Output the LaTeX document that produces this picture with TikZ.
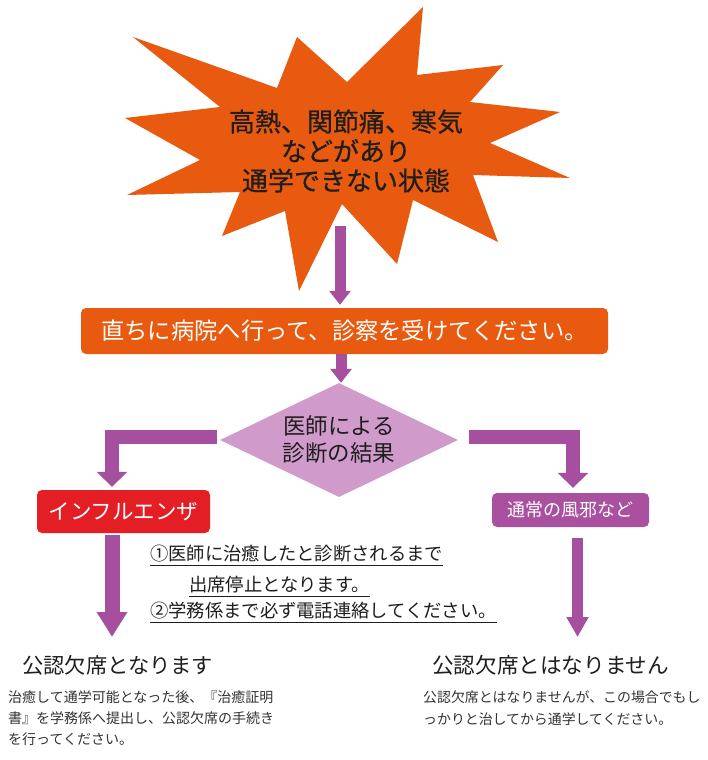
\documentclass[tikz,border=0pt]{standalone}
\usepackage{fontspec}
\setmainfont{Noto Sans CJK JP}
\newfontfamily\heavyjp[FakeBold=0.6]{Noto Sans CJK JP}
\usetikzlibrary{arrows.meta,shapes.geometric}
\definecolor{orng}{RGB}{232,90,15}
\definecolor{arrowc}{RGB}{166,79,159}
\definecolor{diac}{RGB}{208,155,203}
\definecolor{redc}{RGB}{228,30,37}
\definecolor{boxp}{RGB}{169,81,159}
\definecolor{txtc}{RGB}{30,30,30}
\newcommand{\fs}[2]{\fontsize{#1pt}{#2pt}\selectfont}
\begin{document}
\begin{tikzpicture}[x=1pt,y=-1pt,
  parrow/.style={draw=arrowc, line width=11pt, -{Triangle[width=21pt,length=14pt]}},
  elbow/.style={draw=arrowc, line width=14pt, line join=miter, -{Triangle[width=30pt,length=15pt]}},
  downl/.style={draw=arrowc, line width=15pt, -{Triangle[width=29pt,length=25pt]}},
  downr/.style={draw=arrowc, line width=11pt, -{Triangle[width=21pt,length=20pt]}},
  label/.style={inner sep=0pt, text=txtc},
  ulline/.style={draw=txtc, line width=0.8pt},
  rbox/.style={rounded corners=5pt, inner sep=0pt, text=white}]
\fill[white] (0,0) rectangle (707,760);
\useasboundingbox (0,0) rectangle (707,760);
% starburst
\fill[orng] (133,37) -- (277,88) -- (297,37) -- (347,82) -- (423,7) -- (417,75)
  -- (503,65) -- (470,102) -- (560,112) -- (490,143) -- (570,178) -- (473,175)
  -- (498,242) -- (413,200) -- (397,264) -- (342,204) -- (299,291) -- (285,211)
  -- (222,236) -- (240,192) -- (127,195) -- (200,160) -- (125,118) -- (220,107) -- cycle;
\node[label, align=center, font=\heavyjp\fs{26}{29.5}] (burst) at (346,151)
  {高熱、関節痛、寒気\\などがあり\\通学できない状態};
% banner
\node[rbox, fill=orng, minimum width=527pt, minimum height=46pt, font=\fs{23.3}{24}]
  (banner) at (344.5,331) {直ちに病院へ行って、診察を受けてください。};
% diamond
\node[shape=diamond, aspect=2.08, fill=diac, inner sep=0pt, minimum width=238pt,
  minimum height=114pt, align=center, text=txtc, font=\fs{22.5}{27}]
  (dia) at (339,440) {医師による\\診断の結果};
% boxes
\node[rbox, fill=redc, minimum width=173pt, minimum height=43pt, font=\fs{21.5}{22}]
  (flu) at (123.5,511.5) {インフルエンザ};
\node[rbox, fill=boxp, minimum width=157pt, minimum height=34pt, font=\fs{18}{19}]
  (norm) at (570.5,510) {通常の風邪など};
% arrows
\coordinate (a1) at (340,226);
\draw[parrow] (a1) -- ([xshift=-4.5pt,yshift=3pt]banner.north);
\draw[parrow] ([xshift=-3.5pt]banner.south) -- ([xshift=2pt]dia.north);
\draw[elbow] ([xshift=-3pt,yshift=3pt]dia.west) -| ([xshift=-11.5pt,yshift=3pt]flu.north);
\draw[elbow] ([xshift=11pt,yshift=3pt]dia.east) -| ([xshift=2.5pt,yshift=5pt]norm.north);
\coordinate (lend) at (112,637);
\coordinate (rend) at (577.5,637);
\draw[downl] ([xshift=-11.5pt,yshift=-2pt]flu.south) -- (lend);
\draw[downr] ([xshift=7pt,yshift=-11pt]norm.south) -- (rend);
% annotations
\node[label, anchor=base west, font=\fs{18.3}{20}] (n1) at (150,560) {①医師に治癒したと診断されるまで};
\node[label, anchor=base west, font=\fs{18.3}{20}] (n2) at (189,591) {出席停止となります。};
\node[label, anchor=base west, font=\fs{18.3}{20}] (n3) at (150,617) {②学務係まで必ず電話連絡してください。};
\draw[ulline] ([yshift=-5pt]n1.base west) -- ([yshift=-5pt]n1.base east);
\draw[ulline] ([yshift=-5pt]n2.base west) -- ([yshift=-5pt]n2.base east);
\draw[ulline] ([yshift=-5pt]n3.base west) -- ([yshift=-5pt]n3.base east);
% bottom texts
\node[label, anchor=west, font=\fs{21.3}{22}] (hl) at (22,665) {公認欠席となります};
\node[label, anchor=west, font=\fs{21.6}{22}] (hr) at (432,665) {公認欠席とはなりません};
\node[label, anchor=west, align=left, text=black!80, font=\fs{14}{21}] (bl) at (8,718)
  {治癒して通学可能となった後、『治癒証明\\書』を学務係へ提出し、公認欠席の手続き\\を行ってください。};
\node[label, anchor=west, align=left, text=black!80, font=\fs{13.9}{22}] (br) at (423,708)
  {公認欠席とはなりませんが、この場合でもし\\っかりと治してから通学してください。};
\end{tikzpicture}
\end{document}
